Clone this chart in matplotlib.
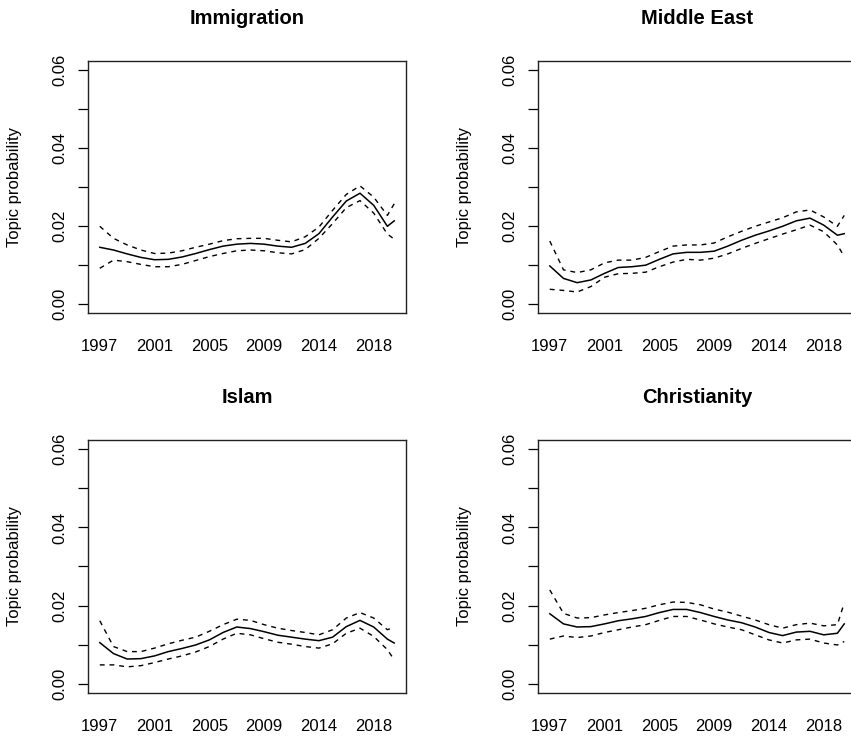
import matplotlib
matplotlib.use("Agg")
import matplotlib.pyplot as plt

plt.rcParams["font.family"] = ["Liberation Sans", "DejaVu Sans"]

# time index of the smoothed estimates (labels placed every 4 steps)
time_idx = [0, 1, 2, 3, 4, 5, 6, 7, 8, 9, 10, 11, 12, 13, 14, 15, 16, 17, 18, 19, 20, 21, 21.5]
year_pos = [0, 4, 8, 12, 16, 20]
year_labels = ["1997", "2001", "2005", "2009", "2014", "2018"]

topics = ["Immigration", "Middle East", "Islam", "Christianity"]

immigration_mean = [0.0145, 0.0138, 0.0128, 0.0119, 0.0113, 0.0114, 0.0120, 0.0129, 0.0139, 0.0148,
                    0.0153, 0.0155, 0.0153, 0.0148, 0.0145, 0.0155, 0.0180, 0.0223, 0.0264, 0.0284,
                    0.0253, 0.0199, 0.0213]
immigration_upper = [0.0199, 0.0168, 0.0151, 0.0138, 0.0129, 0.0130, 0.0136, 0.0145, 0.0153, 0.0162,
                     0.0167, 0.0168, 0.0168, 0.0163, 0.0159, 0.0172, 0.0197, 0.0240, 0.0281, 0.0303,
                     0.0274, 0.0227, 0.0257]
immigration_lower = [0.0091, 0.0112, 0.0108, 0.0101, 0.0095, 0.0095, 0.0101, 0.0111, 0.0121, 0.0129,
                     0.0136, 0.0138, 0.0136, 0.0131, 0.0128, 0.0139, 0.0168, 0.0206, 0.0247, 0.0265,
                     0.0233, 0.0179, 0.0166]

mideast_mean = [0.0097, 0.0065, 0.0054, 0.0061, 0.0078, 0.0093, 0.0095, 0.0099, 0.0114, 0.0128,
                0.0132, 0.0132, 0.0135, 0.0148, 0.0163, 0.0176, 0.0187, 0.0199, 0.0213, 0.0220,
                0.0202, 0.0176, 0.0180]
mideast_upper = [0.0161, 0.0087, 0.0080, 0.0087, 0.0105, 0.0112, 0.0112, 0.0119, 0.0134, 0.0148,
                 0.0151, 0.0151, 0.0156, 0.0172, 0.0186, 0.0199, 0.0210, 0.0221, 0.0236, 0.0241,
                 0.0223, 0.0199, 0.0227]
mideast_lower = [0.0037, 0.0034, 0.0030, 0.0044, 0.0068, 0.0077, 0.0078, 0.0081, 0.0095, 0.0107,
                 0.0114, 0.0112, 0.0117, 0.0128, 0.0142, 0.0155, 0.0167, 0.0179, 0.0190, 0.0202,
                 0.0185, 0.0151, 0.0121]

islam_mean = [0.0105, 0.0077, 0.0063, 0.0064, 0.0071, 0.0082, 0.0090, 0.0099, 0.0112, 0.0131,
              0.0145, 0.0141, 0.0133, 0.0124, 0.0119, 0.0114, 0.0110, 0.0119, 0.0146, 0.0162,
              0.0145, 0.0114, 0.0104]
islam_upper = [0.0161, 0.0095, 0.0082, 0.0082, 0.0091, 0.0102, 0.0111, 0.0119, 0.0134, 0.0151,
               0.0165, 0.0162, 0.0151, 0.0142, 0.0136, 0.0131, 0.0125, 0.0138, 0.0168, 0.0182,
               0.0168, 0.0138, 0.0145]
islam_lower = [0.0048, 0.0048, 0.0043, 0.0046, 0.0054, 0.0063, 0.0071, 0.0081, 0.0095, 0.0114,
               0.0129, 0.0125, 0.0115, 0.0106, 0.0101, 0.0095, 0.0091, 0.0102, 0.0129, 0.0142,
               0.0121, 0.0087, 0.0061]

christ_mean = [0.0179, 0.0153, 0.0145, 0.0146, 0.0153, 0.0161, 0.0166, 0.0172, 0.0182, 0.0190,
               0.0190, 0.0182, 0.0172, 0.0163, 0.0156, 0.0145, 0.0131, 0.0123, 0.0132, 0.0134,
               0.0125, 0.0129, 0.0153]
christ_upper = [0.0240, 0.0180, 0.0168, 0.0169, 0.0176, 0.0182, 0.0187, 0.0193, 0.0202, 0.0209,
                0.0208, 0.0202, 0.0191, 0.0183, 0.0173, 0.0163, 0.0151, 0.0142, 0.0151, 0.0155,
                0.0148, 0.0151, 0.0207]
christ_lower = [0.0114, 0.0122, 0.0118, 0.0122, 0.0131, 0.0138, 0.0145, 0.0151, 0.0162, 0.0172,
                0.0172, 0.0163, 0.0153, 0.0145, 0.0138, 0.0125, 0.0112, 0.0104, 0.0112, 0.0114,
                0.0104, 0.0099, 0.0108]

series = [
    (immigration_mean, immigration_upper, immigration_lower),
    (mideast_mean, mideast_upper, mideast_lower),
    (islam_mean, islam_upper, islam_lower),
    (christ_mean, christ_upper, christ_lower),
]

y_ticks = [0.0, 0.01, 0.02, 0.03, 0.04, 0.05, 0.06]
y_labels = ["0.00", "", "0.02", "", "0.04", "", "0.06"]

fig = plt.figure(figsize=(8.51, 7.37), dpi=100)

# axes boxes in figure fractions (the right column runs past the edge like the original)
boxes = [
    [0.1034, 0.5753, 0.3737, 0.3419],
    [0.6322, 0.5753, 0.3737, 0.3419],
    [0.1034, 0.0597, 0.3737, 0.3433],
    [0.6322, 0.0597, 0.3737, 0.3433],
]

for box, name, (mean, upper, lower) in zip(boxes, topics, series):
    ax = fig.add_axes(box)
    ax.plot(time_idx, mean, color="black", lw=1.1)
    ax.plot(time_idx, upper, color="black", lw=1.0, linestyle=(0, (3.5, 3.5)))
    ax.plot(time_idx, lower, color="black", lw=1.0, linestyle=(0, (3.5, 3.5)))

    span = time_idx[-1] - time_idx[0]
    ax.set_xlim(time_idx[0] - 0.04 * span, time_idx[-1] + 0.04 * span)
    ax.set_ylim(-0.0024, 0.0624)

    ax.set_xticks(year_pos)
    ax.set_xticklabels(year_labels, fontsize=12)
    ax.tick_params(axis="x", length=0, pad=19)

    ax.set_yticks(y_ticks)
    ax.set_yticklabels(y_labels, fontsize=12, rotation=90, va="center")
    ax.tick_params(axis="y", length=7, width=0.9, pad=8)

    for s in ax.spines.values():
        s.set_linewidth(1.0)
        s.set_color("#222222")

    ax.text(-0.23, 0.5, "Topic probability", rotation=90, ha="center", va="center",
            fontsize=12, transform=ax.transAxes)
    ax.set_title(name, fontsize=14.5, fontweight="bold", pad=26.5)

fig.savefig("out.png", dpi=100)
